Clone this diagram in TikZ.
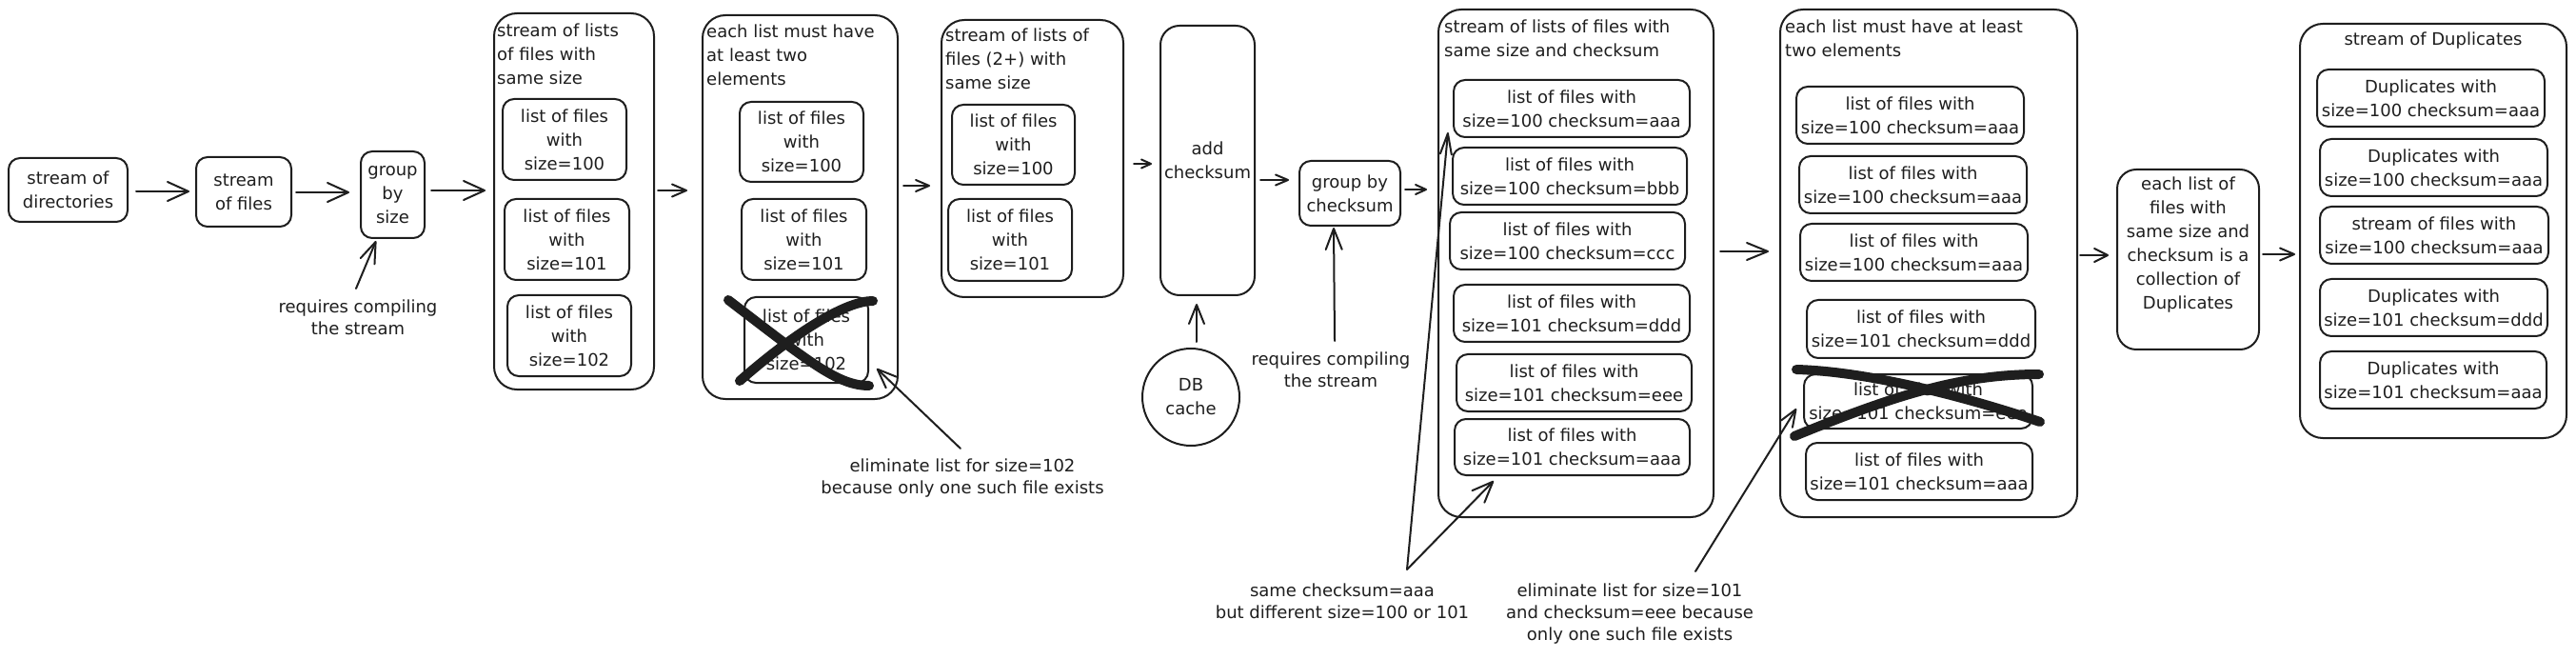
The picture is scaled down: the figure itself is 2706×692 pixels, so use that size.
\documentclass[tikz,border=0pt]{standalone}
\usepackage{fontspec}
\setmainfont{DejaVu Sans}
\usetikzlibrary{arrows.meta}
\definecolor{ink}{HTML}{1E1E1E}
\begin{document}
\begin{tikzpicture}[x=1pt,y=-1pt,
  every node/.style={font=\fontsize{18}{25}\selectfont, text=ink},
  box/.style={draw=ink, line width=2pt, rounded corners=12pt, align=center, inner sep=1pt},
  cont/.style={draw=ink, line width=2pt, rounded corners=24pt, inner sep=0pt},
  ttl/.style={anchor=west, align=left, inner sep=0pt},
  note/.style={align=center, inner sep=0pt, font=\fontsize{18}{23}\selectfont},
  arr/.style args={#1/#2}{draw=ink, line width=2pt, line cap=round, -{Straight Barb[length=#1pt, width=#2pt, round]}},
  xstroke/.style={draw=ink, line width=10pt, line cap=round}
]
\fill[white] (0,0) rectangle (2706,692);

% left chain
\node[box, minimum width=125pt, minimum height=67pt] (dirs) at (71.5,199.5) {stream of\\directories};
\node[box, minimum width=100pt, minimum height=73pt] (files) at (256,201.5) {stream\\of files};
\node[box, minimum width=67pt, minimum height=91pt] (gsize) at (412.5,204.5) {group\\by\\size};
\node[note] (req1) at (376,333.5) {requires compiling\\the stream};

% container 1
\node[cont, minimum width=168pt, minimum height=395pt] (c1) at (603,211.5) {};
\node[ttl] (t1) at (522,57) {stream of lists\\of files with\\same size};
\node[box, minimum width=130pt, minimum height=85pt] (b1a) at (593,146.5) {list of files\\with\\size=100};
\node[box, minimum width=131pt, minimum height=85pt] (b1b) at (595.5,251.5) {list of files\\with\\size=101};
\node[box, minimum width=130pt, minimum height=85pt] (b1c) at (598,352.5) {list of files\\with\\size=102};

% container 2
\node[cont, minimum width=205pt, minimum height=403pt] (c2) at (840.5,217.5) {};
\node[ttl] (t2) at (742,58) {each list must have\\at least two\\elements};
\node[box, minimum width=130pt, minimum height=84pt] (b2a) at (842,149) {list of files\\with\\size=100};
\node[box, minimum width=131pt, minimum height=85pt] (b2b) at (844.5,251.5) {list of files\\with\\size=101};
\node[box, minimum width=130pt, minimum height=90pt] (b2c) at (847,357) {list of files\\with\\size=102};
\draw[xstroke] (765,315) .. controls (850,380) and (880,405) .. (913,405);
\draw[xstroke] (917,316) .. controls (890,316) and (840,345) .. (777,400);
\node[note] (elim102) at (1011,502) {eliminate list for size=102\\because only one such file exists};

% container 3
\node[cont, minimum width=191pt, minimum height=291pt] (c3) at (1084.5,166.5) {};
\node[ttl] (t3) at (993,62) {stream of lists of\\files (2+) with\\same size};
\node[box, minimum width=129pt, minimum height=84pt] (b3a) at (1064.5,152) {list of files\\with\\size=100};
\node[box, minimum width=130pt, minimum height=86pt] (b3b) at (1061,252) {list of files\\with\\size=101};

% checksum stage
\node[box, rounded corners=20pt, minimum width=99pt, minimum height=283pt] (add) at (1268.5,168.5) {add\\checksum};
\node[draw=ink, circle, line width=2pt, minimum size=102pt, align=center, inner sep=0pt] (db) at (1251,417) {DB\\cache};
\node[box, minimum width=106pt, minimum height=68pt] (gc) at (1418,203) {group by\\checksum};
\node[note] (req2) at (1398,388.5) {requires compiling\\the stream};

% container 4
\node[cont, minimum width=289pt, minimum height=533pt] (c4) at (1655.5,276.5) {};
\node[ttl] (t4) at (1517,40) {stream of lists of files with\\same size and checksum};
\node[box, minimum width=248pt, minimum height=60pt] (b4a) at (1651,114) {list of files with\\size=100 checksum=aaa};
\node[box, minimum width=246pt, minimum height=60pt] (b4b) at (1649,185) {list of files with\\size=100 checksum=bbb};
\node[box, minimum width=247pt, minimum height=60pt] (b4c) at (1646.5,253) {list of files with\\size=100 checksum=ccc};
\node[box, minimum width=248pt, minimum height=60pt] (b4d) at (1651,329) {list of files with\\size=101 checksum=ddd};
\node[box, minimum width=247pt, minimum height=60pt] (b4e) at (1653.5,402) {list of files with\\size=101 checksum=eee};
\node[box, minimum width=247pt, minimum height=59pt] (b4f) at (1651.5,469.5) {list of files with\\size=101 checksum=aaa};
\node[note] (same) at (1410,631.5) {same checksum=aaa\\but different size=100 or 101};

% container 5
\node[cont, minimum width=312pt, minimum height=533pt] (c5) at (2026,276.5) {};
\node[ttl] (t5) at (1875,40) {each list must have at least\\two elements};
\node[box, minimum width=239pt, minimum height=60pt] (b5a) at (2006.5,121) {list of files with\\size=100 checksum=aaa};
\node[box, minimum width=239pt, minimum height=60pt] (b5b) at (2009.5,194) {list of files with\\size=100 checksum=aaa};
\node[box, minimum width=239pt, minimum height=60pt] (b5c) at (2010.5,265) {list of files with\\size=100 checksum=aaa};
\node[box, minimum width=240pt, minimum height=61pt] (b5d) at (2018,345.5) {list of files with\\size=101 checksum=ddd};
\node[box, minimum width=240pt, minimum height=57pt] (b5e) at (2015,421.5) {list of files with\\size=101 checksum=eee};
\node[box, minimum width=238pt, minimum height=60pt] (b5f) at (2016,495) {list of files with\\size=101 checksum=aaa};
\draw[xstroke] (1887,388) .. controls (1960,390) and (2060,415) .. (2143,443);
\draw[xstroke] (2142,393) .. controls (2060,393) and (1990,415) .. (1885,458);
\node[note] (elim101) at (1712,645) {eliminate list for size=101\\and checksum=eee because\\only one such file exists};

% duplicates
\node[box, rounded corners=20pt, minimum width=149pt, minimum height=189pt] (dup) at (2298.5,272.5) {};
\node[align=center, inner sep=0pt] (dupt) at (2298.5,257.5) {each list of\\files with\\same size and\\checksum is a\\collection of\\Duplicates};
\node[cont, minimum width=280pt, minimum height=435pt] (c6) at (2556,242.5) {};
\node[inner sep=0pt] (t6) at (2556,43) {stream of Duplicates};
\node[box, minimum width=239pt, minimum height=60pt] (b6a) at (2553.5,103) {Duplicates with\\size=100 checksum=aaa};
\node[box, minimum width=239pt, minimum height=60pt] (b6b) at (2556.5,176) {Duplicates with\\size=100 checksum=aaa};
\node[box, minimum width=240pt, minimum height=60pt] (b6c) at (2557,247) {stream of files with\\size=100 checksum=aaa};
\node[box, minimum width=239pt, minimum height=60pt] (b6d) at (2556.5,323) {Duplicates with\\size=101 checksum=ddd};
\node[box, minimum width=238pt, minimum height=60pt] (b6e) at (2556,399) {Duplicates with\\size=101 checksum=aaa};

% connectors
\draw[arr=22/20] ([shift={(8,1.5)}]dirs.east) -- ([shift={(-6,-0.5)}]files.west);
\draw[arr=22/20] ([shift={(4,0.5)}]files.east) -- ([shift={(-11,-2.5)}]gsize.west);
\draw[arr=22/20] ([shift={(6,-4.5)}]gsize.east) -- ([shift={(-8,-11.5)}]c1.west);
\draw[arr=15/13] ([shift={(3,-11.5)}]c1.east) -- ([shift={(-15,-17.5)}]c2.west);
\draw[arr=14/12] ([shift={(5,-22.5)}]c2.east) -- ([shift={(-11,28.5)}]c3.west);
\draw[arr=10/9] ([shift={(10,5.5)}]c3.east) -- ([shift={(-8,3.5)}]add.west);
\draw[arr=13/11] ([shift={(5,20.5)}]add.east) -- ([shift={(-10,-14)}]gc.west);
\draw[arr=11/10] ([shift={(4,-4)}]gc.east) -- ([shift={(-11,-77.5)}]c4.west);
\draw[arr=22/18] ([shift={(6,-12.5)}]c4.east) -- ([shift={(-11,-12.5)}]c5.west);
\draw[arr=14/14] ([shift={(2,-8.5)}]c5.east) -- ([shift={(-8,-4.5)}]dup.west);
\draw[arr=15/13] ([shift={(3,-5.5)}]dup.east) -- ([shift={(-4,24.5)}]c6.west);
\draw[arr=22/16] ([shift={(-2,-30.5)}]req1.center) -- ([shift={(-17.5,2)}]gsize.south);
\draw[arr=20/16] ([shift={(6,-6)}]db.north) -- ([shift={(-11.5,8)}]add.south);
\draw[arr=22/17] ([shift={(4,-30.5)}]req2.center) -- ([shift={(-17,1)}]gc.south);
\draw[arr=20/16] ([shift={(-2,-31)}]elim102.center) -- ([shift={(8,-16)}]b2c.south east);
\draw[arr=22/12] ([shift={(68,-33.5)}]same.center) -- ([shift={(-5,-6)}]b4a.south west);
\draw[arr=22/18] ([shift={(68,-33.5)}]same.center) -- ([shift={(42,5)}]b4f.south west);
\draw[arr=18/14] ([shift={(69,-45)}]elim101.center) -- ([shift={(-7,7.5)}]b5e.west);
\end{tikzpicture}
\end{document}
